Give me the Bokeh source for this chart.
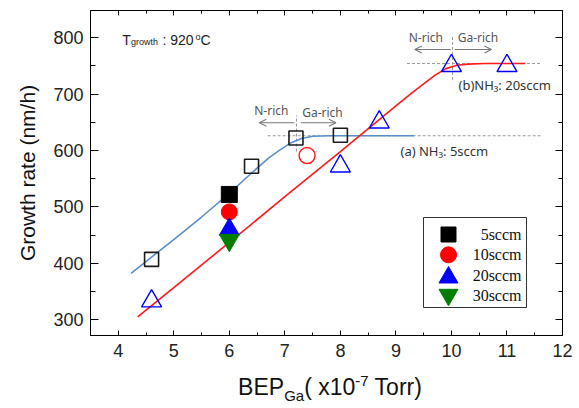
from bokeh.plotting import figure
from bokeh.layouts import column
from bokeh.models import (Range1d, LinearAxis, Label, Arrow, OpenHead,
                          SingleIntervalTicker, Div)
from bokeh.embed import file_html
from bokeh.resources import INLINE

# ---------------- data ----------------
# 5 sccm (black squares)
sq_open_x = [4.6, 6.4, 7.2, 8.0]
sq_open_y = [407, 572, 622, 627]
sq_fill_x = [6.0]
sq_fill_y = [522]
# 10 sccm (red circles)
ci_open_x = [7.4]
ci_open_y = [591]
ci_fill_x = [6.0]
ci_fill_y = [491]
# 20 sccm (blue triangles)
tr_open_x = [4.6, 8.0, 8.7, 10.0, 11.0]
tr_open_y = [333, 572, 650, 750, 750]
tr_fill_x = [6.0]
tr_fill_y = [460]
# 30 sccm (green inverted triangles)
it_fill_x = [6.0]
it_fill_y = [441]

# fitted curves
fit_a_x = [4.23, 4.6, 5.0, 5.5, 6.0, 6.4, 6.7, 6.9, 7.1, 7.3, 7.5, 7.8, 8.2, 9.33]
fit_a_y = [382, 411, 442, 482, 524, 560, 586, 600, 613, 621, 625, 626, 626, 626]
fit_b_x = [4.35, 5.0, 6.0, 7.0, 8.0, 9.0, 9.3, 9.5, 9.7, 9.9, 10.1, 10.3, 10.6, 11.33]
fit_b_y = [305, 357, 437, 518, 598, 679, 703, 718, 733, 745, 751, 753, 754, 754]

# guide lines (dashed): saturation levels and N-rich/Ga-rich boundaries
guide_x0 = [6.69, 9.2, 7.21, 10.02]
guide_y0 = [626, 754, 598, 725]
guide_x1 = [11.63, 11.6, 7.21, 10.02]
guide_y1 = [626, 754, 662, 805]

legend_labels = ["5sccm", "10sccm", "20sccm", "30sccm"]
legend_markers = ["square", "circle", "triangle", "inverted_triangle"]
legend_colors = ["black", "#ff0000", "#0000ff", "#007d00"]
x_range = (3.5, 12)
y_range = (272, 848)

# ---------------- layout constants (pixels) ----------------
FW, FH = 472, 325          # frame size
LEFT, TOP, RIGHT = 90, 10, 17
FIG_H = 370

p = figure(width=LEFT + FW + RIGHT, height=FIG_H,
           x_range=Range1d(*x_range), y_range=Range1d(*y_range),
           output_backend="svg", toolbar_location=None,
           min_border_left=LEFT, min_border_right=RIGHT, min_border_top=TOP,
           min_border_bottom=FIG_H - TOP - FH)
p.grid.visible = False
p.outline_line_color = "black"
p.background_fill_color = "white"
p.border_fill_color = "white"
# pixel ranges for the hand-drawn legend box
p.extra_x_ranges = {"px": Range1d(0, FW)}
p.extra_y_ranges = {"py": Range1d(0, FH)}

xt = SingleIntervalTicker(interval=1, num_minor_ticks=2)
yt = SingleIntervalTicker(interval=100, num_minor_ticks=2)
p.xaxis.ticker = xt
p.yaxis.ticker = yt

for ax, mj, mn in [(p.xaxis[0], 5, 3), (p.yaxis[0], 8, 5)]:
    ax.major_tick_out = 0
    ax.major_tick_in = mj
    ax.minor_tick_out = 0
    ax.minor_tick_in = mn
    ax.axis_line_color = "black"
    ax.major_tick_line_color = "black"
    ax.minor_tick_line_color = "black"
    ax.major_label_text_font = "Liberation Sans"
    ax.major_label_text_font_size = "18px"
    ax.major_label_text_color = "#222222"

p.xaxis.major_label_standoff = 8
p.yaxis.major_label_standoff = 7
p.yaxis.axis_label = "Growth rate (nm/h)"
p.yaxis.axis_label_text_font = "Liberation Sans"
p.yaxis.axis_label_text_font_size = "21px"
p.yaxis.axis_label_text_font_style = "normal"
p.yaxis.axis_label_text_color = "#111111"
p.yaxis.axis_label_standoff = 11

for loc, ticker, mj, mn in [("above", xt, 5, 3), ("right", yt, 7, 4)]:
    ax = LinearAxis(ticker=ticker, major_tick_out=0, major_tick_in=mj,
                    minor_tick_out=0, minor_tick_in=mn, major_label_standoff=0,
                    major_label_text_font_size="0px", major_label_text_color=None,
                    axis_line_color="black")
    p.add_layout(ax, loc)

# guides
p.segment(x0=guide_x0, y0=guide_y0, x1=guide_x1, y1=guide_y1,
          line_color="#9a9a9a", line_dash="3 2", line_width=1)

# curves
p.line(fit_a_x, fit_a_y, line_color="#5b8ec8", line_width=1.6)
p.line(fit_b_x, fit_b_y, line_color="#ff1a1a", line_width=1.6)

# open markers
p.scatter(sq_open_x, sq_open_y, marker="square", size=14, fill_alpha=0,
          line_color="#1a1a1a", line_width=1.6)
p.scatter(ci_open_x, ci_open_y, marker="circle", size=16, fill_alpha=0,
          line_color="#ff1a1a", line_width=1.4)
p.scatter(tr_open_x, tr_open_y, marker="triangle", size=20, fill_alpha=0,
          line_color="#0000ff", line_width=1.4)

# filled markers
p.scatter(sq_fill_x, sq_fill_y, marker="square", size=16, color=legend_colors[0])
p.scatter(ci_fill_x, ci_fill_y, marker="circle", size=16, color=legend_colors[1])
p.scatter(tr_fill_x, tr_fill_y, marker="triangle", size=20, color=legend_colors[2])
p.scatter(it_fill_x, it_fill_y, marker="inverted_triangle", size=20, color=legend_colors[3])

# ---------------- legend (drawn in frame pixels) ----------------
LB_L, LB_R, LB_B, LB_T = 333, 436, 28, 118
p.quad(left=[LB_L], right=[LB_R], bottom=[LB_B], top=[LB_T],
       x_range_name="px", y_range_name="py",
       fill_color="white", line_color="#333333", line_width=1)
row_y = [101, 80.7, 58, 40.7]
key_size = [15, 16, 19, 19]
for lbl, mk, col, ry, ks in zip(legend_labels, legend_markers, legend_colors, row_y, key_size):
    p.scatter([LB_L + 25], [ry], marker=mk, size=ks, color=col,
              x_range_name="px", y_range_name="py")
    p.add_layout(Label(x=LB_R - 5, y=ry + (2 if mk == "triangle" else (-1 if mk == "inverted_triangle" else 0)),
                       x_units="screen", y_units="screen", text=lbl,
                       text_font="Liberation Serif", text_font_size="16px",
                       text_color="#111111", text_align="right", text_baseline="middle"))

# arrows
arrow_color = "#777777"
for xs, xe, yy in [(7.17, 6.54, 649), (7.29, 7.92, 649), (9.99, 9.34, 779), (10.06, 10.72, 779)]:
    p.add_layout(Arrow(end=OpenHead(size=7, line_color=arrow_color, line_width=1.1),
                       x_start=xs, y_start=yy, x_end=xe, y_end=yy,
                       line_color=arrow_color, line_width=1.1))


def lab(text, x, y, size, font="Liberation Sans", color="#222222", align="left",
        baseline="alphabetic"):
    p.add_layout(Label(x=x, y=y, x_units="screen", y_units="screen", text=text,
                       text_font=font, text_font_size=size, text_color=color,
                       text_align=align, text_baseline=baseline))


# annotation texts (screen units relative to the frame's lower-left corner)
for t, x, y in [("N-rich", 180.8, 225), ("Ga-rich", 232, 223.5),
                ("N-rich", 335.3, 297.7), ("Ga-rich", 387.5, 297.7)]:
    lab(t, x, y, "12px", font="Noto Sans", color="#555555", align="center", baseline="middle")

lab("(a) NH\u2083: 5sccm", 310, 185, "13px", font="Noto Sans", color="#333333", baseline="middle")
lab("(b)NH\u2083: 20sccm", 368, 251, "13px", font="Noto Sans", color="#333333", baseline="middle")

# T_growth : 920 oC
lab("T", 31.7, 295.7, "14px")
lab("growth", 40.5, 293.3, "9px")
lab(": 920", 72, 295.7, "14px")
lab("o", 105, 298.5, "9px")
lab("C", 110, 295.7, "14px")

# ---------------- x-axis title (sub/superscript) below the plot ----------------
xtitle = Div(
    text=('<div style="display:block;width:%dpx;font-family:\'Liberation Sans\',Arial,sans-serif;'
          'font-size:23px;line-height:26px;color:#111111;text-align:center;padding-top:4px;'
          'padding-left:12px;white-space:nowrap">'
          'BEP<span style="font-size:15px;position:relative;top:6px">Ga</span>'
          '( x10<span style="font-size:15px;position:relative;top:-9px">-7</span> Torr)</div>') % (FW - 4),
    width=FW, height=408 - FIG_H, margin=(0, 0, 0, LEFT))

layout = column(p, xtitle, spacing=0)
open("out.html", "w").write(file_html(layout, INLINE))
